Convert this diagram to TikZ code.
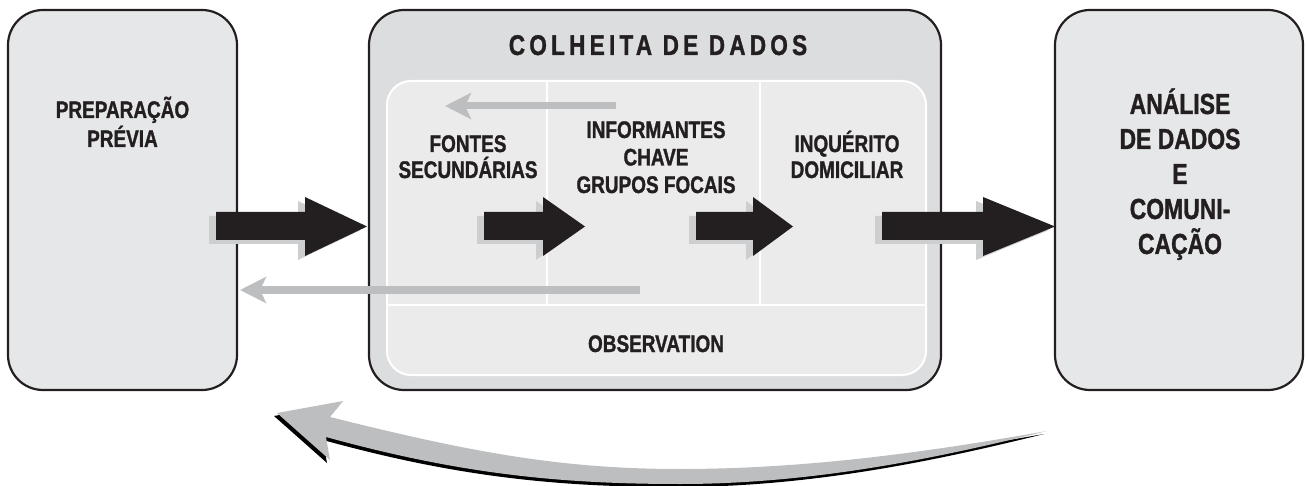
\documentclass[tikz,border=0pt]{standalone}
\usepackage{fontspec}
\setmainfont{Liberation Sans}[FakeStretch=0.79, BoldFeatures={FakeBold=1.2}]
\usetikzlibrary{arrows.meta}
\definecolor{boxfill}{HTML}{E6E7E8}
\definecolor{midfill}{HTML}{DCDDDF}
\definecolor{innerfill}{HTML}{EBEBEC}
\definecolor{arrgray}{HTML}{BCBEC0}
\definecolor{shadowc}{HTML}{CDCED0}
\definecolor{ink}{HTML}{231F20}
\tikzset{
  bigbox/.style={draw=ink, line width=2.2pt, fill=boxfill, rounded corners=35pt, minimum width=#1, minimum height=380pt, inner sep=0pt},
  innerbox/.style={draw=white, line width=2pt, fill=innerfill, rounded corners=24pt, minimum width=539pt, minimum height=294pt, inner sep=0pt},
  lbl/.style={text=ink, align=center, inner sep=0pt, anchor=base, font=\fontsize{24}{29}\selectfont\bfseries},
  thinarr/.style={draw=arrgray, line width=#1, -{Stealth[length=26pt, width=26pt, inset=6pt]}},
  divider/.style={draw=white, line width=1.5pt}
}
\newcommand\blockarr[3]{%
  \fill[shadowc, shift={(-7,4)}] (#1,212) -- (#2,212) -- (#2,197) -- (#3,226.5) -- (#2,256) -- (#2,240) -- (#1,240) -- cycle;
  \fill[ink] (#1,212) -- (#2,212) -- (#2,197) -- (#3,226.5) -- (#2,256) -- (#2,240) -- (#1,240) -- cycle;}
\begin{document}
\begin{tikzpicture}[x=1pt, y=-1pt]
\useasboundingbox (0,0) rectangle (1306,486);
% boxes
\node[bigbox=229pt] (prep) at (122.5,200) {};
\node[bigbox=572pt, fill=midfill] (colheita) at (655,200) {};
\node[innerbox] (inner) at (656.5,228) {};
\node[bigbox=248pt] (analise) at (1179,200) {};
% dividers
\coordinate (d1t) at (547,81);  \coordinate (d1b) at (547,305);
\coordinate (d2t) at (760,81);  \coordinate (d2b) at (760,305);
\coordinate (hl) at (387,305);  \coordinate (hr) at (926,305);
\draw[divider] (d1t) -- (d1b);
\draw[divider] (d2t) -- (d2b);
\draw[divider] (hl) -- (hr);
% texts (anchor = baseline of last line)
\node[lbl] (tprep) at (122.5,147) {PREPARAÇÃO\\PRÉVIA};
\node[lbl, font=\fontsize{28.5}{34}\selectfont\bfseries\addfontfeatures{LetterSpace=15}] (ttitle) at (658,55) {COLHEITA DE DADOS};
\node[lbl, font=\fontsize{24}{26}\selectfont\bfseries] (tfontes) at (468,178) {FONTES\\SECUNDÁRIAS};
\node[lbl, font=\fontsize{24}{27.5}\selectfont\bfseries] (tinf) at (656,193) {INFORMANTES\\CHAVE\\GRUPOS FOCAIS};
\node[lbl, font=\fontsize{24}{26}\selectfont\bfseries] (tinq) at (847,178) {INQUÉRITO\\DOMICILIAR};
\node[lbl] (tobs) at (656,352) {OBSERVATION};
\node[lbl, font=\fontsize{29}{35}\selectfont\bfseries] (tana) at (1180,254) {ANÁLISE\\DE DADOS\\E\\COMUNI-\\CAÇÃO};
% black block arrows
\blockarr{216}{305}{367}
\blockarr{484}{543}{585}
\blockarr{696}{753}{793}
\blockarr{882}{983}{1055}
% thin gray arrows
\coordinate (g1s) at (616,106); \coordinate (g1e) at (445,106);
\coordinate (g2s) at (640,290); \coordinate (g2e) at (240,290);
\draw[thinarr=7pt] (g1s) -- (g1e);
\draw[thinarr=8pt] (g2s) -- (g2e);
% curved return arrow
\foreach \c/\dx/\dy in {black/-3/3, arrgray/0/0}{
  \fill[\c, shift={(\dx,\dy)}] (330,417) .. controls (470,452) and (560,469) .. (680,469)
    .. controls (820,469) and (950,448) .. (1047,431)
    .. controls (950,455) and (820,484) .. (680,484)
    .. controls (560,484) and (460,474) .. (326,437)
    -- (330,460) -- (277,413) -- (343,401) -- cycle;
}
\end{tikzpicture}
\end{document}
